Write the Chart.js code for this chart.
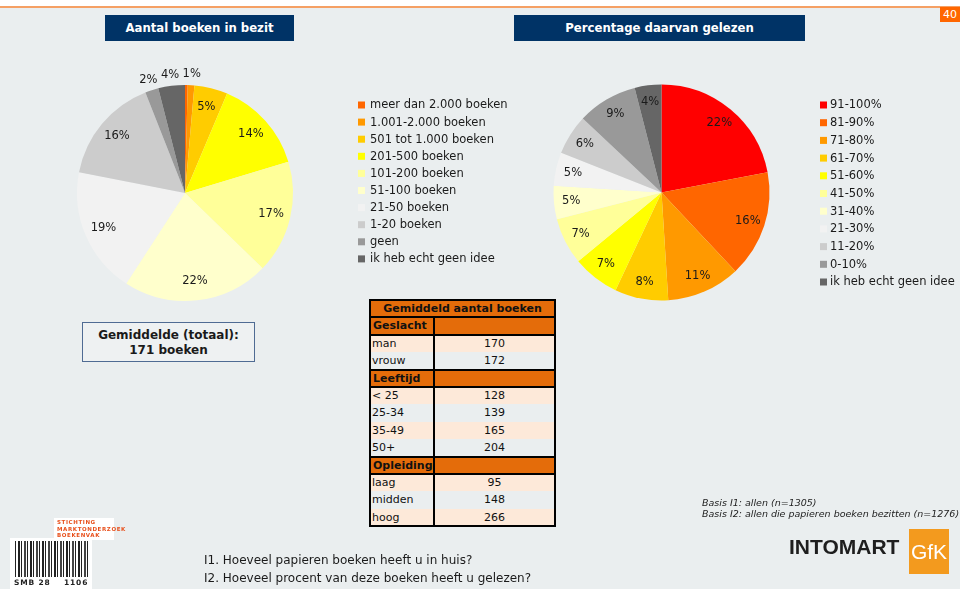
<!DOCTYPE html>
<html><head><meta charset="utf-8">
<script src="https://cdn.jsdelivr.net/npm/chart.js@4.4.1/dist/chart.umd.min.js"></script>
<style>
html,body{margin:0;padding:0;}
body{width:960px;height:589px;position:relative;overflow:hidden;background:#eaeeef;font-family:"DejaVu Sans",sans-serif;color:#1a1a1a;}
.abs{position:absolute;}
canvas{position:absolute;left:0;top:0;}
.title{background:#003366;color:#fff;font-weight:bold;font-family:"DejaVu Sans Condensed","DejaVu Sans",sans-serif;font-stretch:condensed;font-size:13px;text-align:center;line-height:26px;height:26px;top:15px;}
#tbl div{position:absolute;box-sizing:border-box;}
</style></head>
<body>
<div class="abs" style="left:0;top:0;width:960px;height:6px;background:#fff"></div>
<div class="abs" style="left:0;top:6px;width:960px;height:2px;background:#f5a064"></div>
<div class="abs" style="left:940px;top:7px;width:20px;height:15px;background:#ff6600;color:#fff;font-size:11px;line-height:15px;text-align:center">40</div>
<div class="abs title" style="left:105px;width:189px">Aantal boeken in bezit</div>
<div class="abs title" style="left:514px;width:291px">Percentage daarvan gelezen</div>

<canvas id="c1" width="960" height="589"></canvas>
<canvas id="c2" width="960" height="589"></canvas>

<div class="abs" style="left:82px;top:322px;width:171px;height:38px;border:1.5px solid #4f6b93;background:#eef1f2;font-weight:bold;font-size:12px;line-height:15px;text-align:center;padding-top:5px;box-sizing:content-box;height:33px">Gemiddelde (totaal):<br>171 boeken</div>

<div id="tbl" class="abs" style="left:370px;top:300px;width:185px;height:227px"></div>

<div class="abs" style="left:702px;top:497px;font-size:9.5px;font-style:italic;line-height:11px;color:#222;white-space:nowrap">Basis I1: allen (n=1305)<br>Basis I2: allen die papieren boeken bezitten (n=1276)</div>

<div class="abs" style="left:789px;top:536px;font-family:'Liberation Sans',Arial,sans-serif;font-weight:bold;font-size:21px;line-height:21px;color:#1e1e1e">INTOMART</div>
<div class="abs" style="left:909px;top:529px;width:40px;height:45px;background:#f39a1e;color:#fff;font-family:'Liberation Sans',Arial,sans-serif;font-size:21px;line-height:45px;text-align:center">GfK</div>

<div class="abs" style="left:204px;top:552px;font-size:12px;line-height:17.5px;white-space:nowrap;color:#1a1a1a">I1. Hoeveel papieren boeken heeft u in huis?<br>I2. Hoeveel procent van deze boeken heeft u gelezen?</div>

<div class="abs" style="left:54px;top:518px;width:60px;height:22px;background:#fff"></div>
<div class="abs" style="left:57px;top:519px;font-size:5.5px;font-weight:bold;letter-spacing:0.6px;line-height:6.5px;color:#e8501c;white-space:nowrap">STICHTING<br>MARKTONDERZOEK<br>BOEKENVAK</div>
<div class="abs" style="left:10px;top:538px;width:82px;height:51px;background:#fff"></div>
<div class="abs" style="left:15px;top:541px;width:73px;height:36px;background:repeating-linear-gradient(90deg,#222 0 1px,#fff 1px 3px,#222 3px 5px,#fff 5px 6px,#222 6px 7px,#fff 7px 9px,#444 9px 11px,#fff 11px 12px)"></div>
<div class="abs" style="left:14px;top:578px;font-size:7.5px;font-weight:bold;letter-spacing:0.8px;color:#222;white-space:nowrap">SMB 28&nbsp;&nbsp;&nbsp;&nbsp;1106</div>

<script>
// ---- data ----
const bezitLabels = ['meer dan 2.000 boeken','1.001-2.000 boeken','501 tot 1.000 boeken','201-500 boeken','101-200 boeken','51-100 boeken','21-50 boeken','1-20 boeken','geen','ik heb echt geen idee'];
const bezitValues = [0.4, 1, 5, 14, 17, 22, 19, 16, 2, 4];
const gelezenLabels = ['91-100%','81-90%','71-80%','61-70%','51-60%','41-50%','31-40%','21-30%','11-20%','0-10%','ik heb echt geen idee'];
const gelezenValues = [22, 16, 11, 8, 7, 7, 5, 5, 6, 9, 4];

const tableTitle = 'Gemiddeld aantal boeken';
const groupNames = ['Geslacht','Leeftijd','Opleiding'];
const geslachtCats = ['man','vrouw'];
const geslachtVals = [170, 172];
const leeftijdCats = ['< 25','25-34','35-49','50+'];
const leeftijdVals = [128, 139, 165, 204];
const opleidingCats = ['laag','midden','hoog'];
const opleidingVals = [95, 148, 266];

// ---- styles ----
const bezitColors = ['#ff6600','#ff9900','#ffcc00','#ffff00','#ffff99','#ffffcc','#f2f2f2','#cccccc','#999999','#666666'];
const gelezenColors = ['#ff0000','#ff6600','#ff9900','#ffcc00','#ffff00','#ffff99','#ffffcc','#f2f2f2','#cccccc','#999999','#666666'];

const pieExtras = {
  id: 'pieExtras',
  afterDatasetsDraw(chart, args, opts) {
    const ctx = chart.ctx;
    const meta = chart.getDatasetMeta(0);
    const ds = chart.data.datasets[0];
    ctx.save();
    ctx.font = '11.5px "DejaVu Sans"';
    ctx.textBaseline = 'middle';
    ctx.textAlign = 'center';
    ctx.fillStyle = '#1a1a1a';
    const placed = [];
    meta.data.forEach((arc, i) => {
      const v = ds.data[i];
      if (Math.round(v) < 1) return;
      const txt = Math.round(v) + '%';
      const p = arc.getProps(['x','y','startAngle','endAngle','outerRadius'], true);
      const mid = (p.startAngle + p.endAngle) / 2;
      const outside = v < opts.outsideBelow;
      let r = outside ? p.outerRadius + opts.outsideGap : p.outerRadius * opts.insideFactor;
      const w = ctx.measureText(txt).width;
      let px, py;
      for (let k = 0; k < 30; k++) {
        px = p.x + Math.cos(mid) * r; py = p.y + Math.sin(mid) * r;
        if (!placed.some(q => Math.abs(q.x - px) < (q.w + w) / 2 + 2 && Math.abs(q.y - py) < 12)) break;
        r += 2;
      }
      placed.push({x: px, y: py, w});
      ctx.fillText(txt, px, py);
    });
    const L = opts.legend;
    ctx.textAlign = 'left';
    chart.data.labels.forEach((lab, i) => {
      const cy = L.y + i * L.step;
      ctx.fillStyle = ds.backgroundColor[i];
      ctx.fillRect(L.x, cy - 3.5, 7, 7);
      ctx.fillStyle = '#1a1a1a';
      ctx.fillText(lab, L.textX, cy + 0.5);
    });
    ctx.restore();
  }
};

function makePie(id, labels, values, colors, pad, extras) {
  return new Chart(document.getElementById(id), {
    type: 'pie',
    data: { labels, datasets: [{ data: values, backgroundColor: colors, borderWidth: 0 }] },
    options: {
      responsive: false, animation: false, devicePixelRatio: 1,
      layout: { padding: pad },
      events: [],
      plugins: { legend: { display: false }, tooltip: { enabled: false }, pieExtras: extras }
    },
    plugins: [pieExtras]
  });
}

makePie('c1', bezitLabels, bezitValues, bezitColors,
  { left: 77, right: 667, top: 85, bottom: 288 },
  { outsideBelow: 5, outsideGap: 11, insideFactor: 0.82, legend: { x: 358, textX: 370, y: 105, step: 17.1 } });
makePie('c2', gelezenLabels, gelezenValues, gelezenColors,
  { left: 553.5, right: 190.5, top: 84.5, bottom: 288.5 },
  { outsideBelow: 0, outsideGap: 11, insideFactor: 0.84, legend: { x: 820, textX: 830, y: 105, step: 17.7 } });

// ---- table ----
(function buildTable() {
  const tbl = document.getElementById('tbl');
  const W = 185, rowH = 17.4, divX = 64;
  const orange = '#e46c0a', peach = '#fde9d9', grey = '#eaeeef';
  const groups = [[geslachtCats, geslachtVals], [leeftijdCats, leeftijdVals], [opleidingCats, opleidingVals]];
  const rows = [{type: 'title', text: tableTitle}];
  groups.forEach((g, gi) => {
    rows.push({type: 'group', text: groupNames[gi]});
    g[0].forEach((c, ci) => rows.push({type: 'data', text: c, val: g[1][ci], alt: ci % 2}));
  });
  function add(style, html) {
    const d = document.createElement('div');
    Object.assign(d.style, style);
    if (html !== undefined) d.textContent = html;
    tbl.appendChild(d);
    return d;
  }
  const lines = [0];
  rows.forEach((r, i) => {
    const top = i * rowH;
    const bg = r.type === 'data' ? (r.alt ? grey : peach) : orange;
    add({left: '0px', top: top + 'px', width: W + 'px', height: rowH + 'px', background: bg});
    const base = {top: top + 'px', height: rowH + 'px', lineHeight: rowH + 'px', fontSize: '11px', whiteSpace: 'nowrap', color: '#111'};
    if (r.type === 'title') {
      add(Object.assign({}, base, {left: '0px', width: W + 'px', textAlign: 'center', fontWeight: 'bold'}), r.text);
      lines.push(i + 1);
    } else if (r.type === 'group') {
      add(Object.assign({}, base, {left: '3px', fontWeight: 'bold'}), r.text);
      lines.push(i); lines.push(i + 1);
    } else {
      add(Object.assign({}, base, {left: '2px'}), r.text);
      add(Object.assign({}, base, {left: divX + 'px', width: (W - divX) + 'px', textAlign: 'center'}), String(r.val));
    }
  });
  lines.push(rows.length);
  const H = rows.length * rowH;
  lines.forEach(li => add({left: '0px', top: (li * rowH - 1) + 'px', width: W + 'px', height: '2px', background: '#000'}));
  add({left: '-1px', top: '-1px', width: '2px', height: (H + 2) + 'px', background: '#000'});
  add({left: (W - 1) + 'px', top: '-1px', width: '2px', height: (H + 2) + 'px', background: '#000'});
  add({left: (divX - 1) + 'px', top: (rowH - 1) + 'px', width: '2px', height: (H - rowH + 2) + 'px', background: '#000'});
})();
</script>
</body></html>
